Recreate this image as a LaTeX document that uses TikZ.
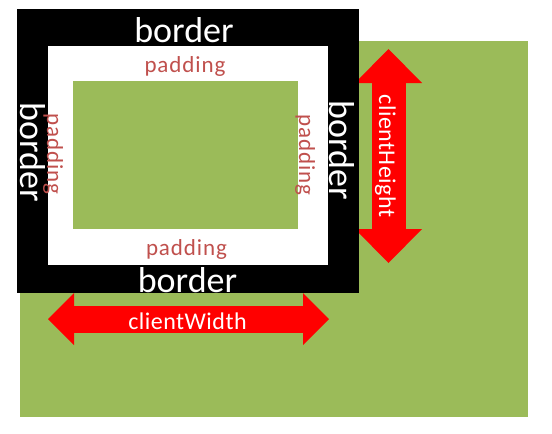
\documentclass[tikz,border=0pt]{standalone}
\usepackage{fontspec}
\setmainfont{Carlito}
\newfontfamily\paddingfont[LetterSpace=4]{Carlito}
\newfontfamily\clientfont[LetterSpace=2]{Carlito}
\usetikzlibrary{arrows.meta}
\definecolor{boxgreen}{HTML}{9BBB59}
\definecolor{paddingred}{HTML}{C0504D}
\definecolor{arrowred}{HTML}{FF0000}

\begin{document}
\begin{tikzpicture}[
  x=1pt, y=-1pt,
  bordertext/.style={
    text=white,
    inner sep=0pt,
    anchor=base,
    font=\fontsize{36}{36}\selectfont
  },
  paddingtext/.style={
    text=paddingred,
    inner sep=0pt,
    anchor=base,
    font=\paddingfont\fontsize{23}{23}\selectfont
  },
  clienttext/.style={
    text=white,
    inner sep=0pt,
    anchor=base,
    font=\clientfont\fontsize{24}{24}\selectfont
  },
  dimarrow/.style={
    draw=arrowred,
    line cap=butt
  }
]
  \useasboundingbox (0,0) rectangle (552,434);

  % Outer content area
  \fill[boxgreen] (20,41) rectangle (528,417);

  % Dimension arrows
  \coordinate (cwleft) at (48,319);
  \coordinate (cwright) at (329,319);
  \coordinate (chtop) at (388.5,49);
  \coordinate (chbottom) at (388.5,263);
  \draw[dimarrow, line width=27pt,
    {Triangle[length=26pt,width=52pt,line width=0pt]}-{Triangle[length=26pt,width=52pt,line width=0pt]}]
    (cwleft) -- (cwright);
  \draw[dimarrow, line width=34pt,
    {Triangle[length=34pt,width=67pt,line width=0pt]}-{Triangle[length=34pt,width=67pt,line width=0pt]}]
    (chtop) -- (chbottom);

  % Border, padding and content boxes
  \fill[black] (17,9) rectangle (359,293);
  \fill[white] (48,46) rectangle (327.5,265);
  \fill[boxgreen] (73,81) rectangle (298,229);

  % Border labels
  \node[bordertext] (bordertop) at (184,42) {border};
  \node[bordertext] (borderbottom) at (187.5,292) {border};
  \node[bordertext, rotate=-90] (borderleft) at (20,152) {border};
  \node[bordertext, rotate=-90] (borderright) at (329,150.5) {border};

  % Padding labels
  \node[paddingtext] (paddingtop) at (185,72) {padding};
  \node[paddingtext] (paddingbottom) at (186.5,255) {padding};
  \node[paddingtext, rotate=-90] (paddingleft) at (47,154) {padding};
  \node[paddingtext, rotate=-90] (paddingright) at (299,155) {padding};

  % Arrow labels
  \node[clienttext] (clientwidth) at (187.5,329) {clientWidth};
  \node[clienttext, rotate=-90] (clientheight) at (379,156) {clientHeight};

\end{tikzpicture}
\end{document}
